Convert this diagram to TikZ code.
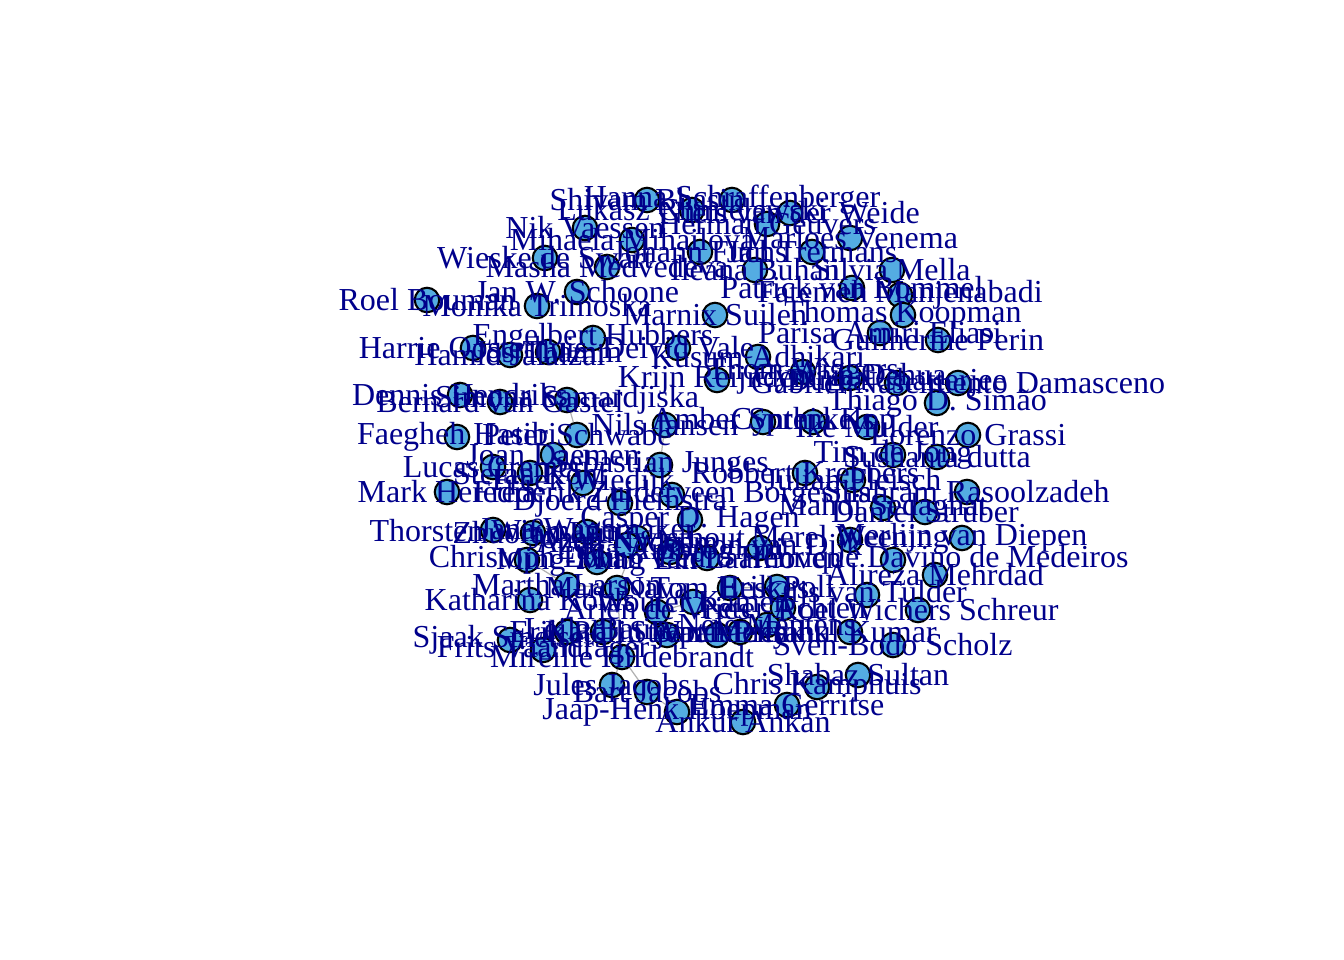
\documentclass[tikz,border=0pt]{standalone}
\usepackage{fontspec}
\setmainfont{Liberation Serif}
\usetikzlibrary{positioning,backgrounds}
\definecolor{VtxBlue}{RGB}{84,172,226}
\definecolor{LabNavy}{RGB}{0,0,139}
\tikzset{
  v/.style={circle,draw=black,fill=VtxBlue,line width=0.6pt,minimum size=0.245cm,inner sep=0pt},
  lab/.style={text=LabNavy,font=\fontsize{9.1}{9}\selectfont,inner sep=0pt},
  edge/.style={draw=black!30,line width=0.35pt},
}
% id/x/y/name, x and y in pixels
\def\people{1/732/200/Hanna Schraffenberger, 2/647/200/Shivam Bhasin,
  3/692/210/Lukasz Chmielewski, 4/790/213/Niels van der Weide,
  5/767/224/Herman Geuvers, 6/585/228/Nik Vaessen, 7/632/240/Mihaela Mihailova,
  8/850/238/Marloes Venema, 9/545/258/Wieske de Swart, 10/607/267/Masha Medvedeva,
  11/755/270/Ileana Buhan, 12/892/270/Silvia Mella, 13/812/252/Jan Tretmans,
  14/700/252/Johann Fuchs, 15/427/300/Roel Bouman, 16/537/306/Monika Trimoska,
  17/577/292/Jan W. Schoone, 18/852/288/Patrick van Bommel,
  19/900/295/Fatemeh Manjenabadi, 20/903/315/Thomas Koopman,
  21/715/315/Marnix Suilen, 22/880/333/Parisa Amiri Eliasi,
  23/938/340/Guilherme Perin, 24/593/338/Engelbert Hubbers,
  25/473/348/Harrie Oosterhuis, 26/510/355/Hamid Jalalzai, 27/548/352/Jos Thamm,
  28/678/348/Deivid Vale, 29/758/357/Kusum Adhikari, 30/717/380/Krijn Reijnders,
  31/803/372/Thom Wiggers, 32/850/378/Cynthia Dehua, 33/897/383/Durba Chatterjee,
  34/958/383/Gabriel Nascimento Damasceno, 35/937/403/Thiago D. Simão,
  36/460/395/Dennis Hendriks, 37/500/402/Bernard van Gastel,
  38/567/400/Simona Samardjiska, 39/665/425/Nils Jansen, 40/763/422/Amber Sprenkels,
  41/813/422/Cynthia Kop, 42/867/427/Ike Mulder, 43/968/435/Lorenzo Grassi,
  44/457/437/Faegheh Hasibi, 45/577/435/Peter Schwabe, 46/553/455/Joan Daemen,
  47/893/455/Tim de Jong, 48/937/457/Sushanta dutta, 49/660/465/Sebastian Junges,
  50/805/473/Robbert Krebbers, 51/853/480/Julian Fleisch, 52/967/492/Shahram Rasoolzadeh,
  53/925/512/Daniel Strüber, 54/883/508/Mahdi Sedaghat, 55/690/520/Casper D. Hagen,
  56/447/492/Mark Heredia, 57/493/467/Lucas Cremer, 58/530/473/Stefan Kohl,
  59/583/483/Freek Wiedijk, 60/620/503/Djoerd Hiemstra,
  61/672/495/Frederik Zuiderveen Borgesius, 62/493/530/Thorsten Wißmann,
  63/533/533/Zhuoran Liu, 64/587/532/Jana Wagemaker, 65/527/560/Christoph Lohr,
  66/597/562/Ming-Ming Lin, 67/567/585/Martha Larson, 68/530/600/Katharina Kohls,
  69/510/640/Sjaak Smetsers, 70/543/650/Frits Vaandrager,
  71/622/657/Mireille Hildebrandt, 72/612/685/Jules Jacobs, 73/647/692/Bart Jacobs,
  74/677/712/Jaap-Henk Hoepman, 75/743/722/Ankur Ankan, 76/787/705/Emma Gerritse,
  77/817/687/Chris Kamphuis, 78/858/675/Shabaz Sultan, 79/893/645/Sven-Bodo Scholz,
  80/850/632/Rahul Kumar, 81/918/610/Roel Wichers Schreur, 82/867/595/Gijs van Tulder,
  83/935/575/Alireza Mehrdad, 84/893/560/Pedro Henrique Davino de Medeiros,
  85/962/538/Merlijn van Diepen, 86/730/588/Tom Heskes, 87/637/538/Johan Kwisthout,
  88/760/548/Jolyon van Dijk, 89/707/558/Twan van Laarhoven, 90/617/588/Marc Nava,
  91/693/602/Wouter Kamen, 92/777/587/Erik Poll, 93/667/635/Kathrin Wardatzky,
  94/603/632/Lejla Batina, 95/717/635/Stjepan Picek, 96/767/625/Nele Mentens,
  97/850/540/Merel Weening, 98/657/612/Arjen de Vries, 99/670/552/Luca Ambrogioni,
  100/783/608/Peter Achten, 101/567/632/Erik Poll, 102/740/632/Bart Mennink,
  103/627/545/Azqa Nadeem}

\begin{document}
\begin{tikzpicture}[x=0.01cm,y=-0.01cm]
\useasboundingbox (0,0) rectangle (1344,960);
\foreach \i/\x/\y/\t in \people {
  \node[v] (v\i) at (\x,\y) {};
}
\begin{scope}[on background layer]
\draw[edge] (v72) -- (v71);
\draw[edge] (v73) -- (v71);
\draw[edge] (v74) -- (v73);
\draw[edge] (v38) -- (v45);
\draw[edge] (v39) -- (v49);
\draw[edge] (v90) -- (v71);
\draw[edge] (v67) -- (v90);
\draw[edge] (v86) -- (v92);
\draw[edge] (v65) -- (v67);
\draw[edge] (v87) -- (v90);
\draw[edge] (v91) -- (v98);
\end{scope}
\foreach \i/\x/\y/\t in \people {
  \node[lab] at (v\i) {\t};
}
\end{tikzpicture}
\end{document}
